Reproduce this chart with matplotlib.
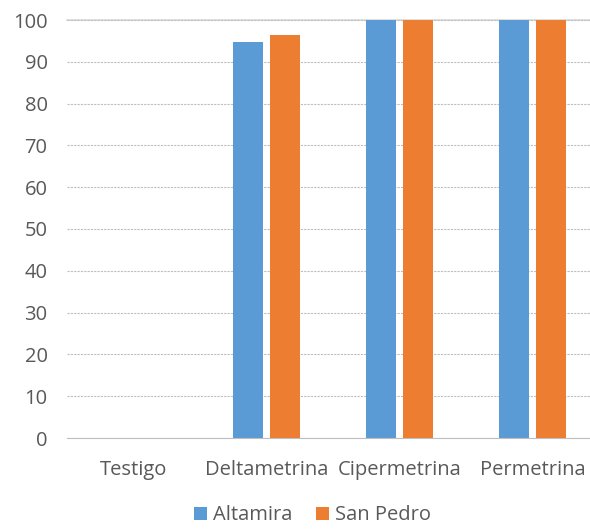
import matplotlib
matplotlib.use("Agg")
import matplotlib.pyplot as plt
import numpy as np

categories = ["Testigo", "Deltametrina", "Cipermetrina", "Permetrina"]
altamira = [0, 94.8, 100, 100]
san_pedro = [0, 96.3, 100, 100]
series_names = ["Altamira", "San Pedro"]
colors = ["#5B9BD5", "#ED7D31"]

plt.rcParams['font.family'] = ['Open Sans', 'DejaVu Sans']
fig = plt.figure(figsize=(5.9, 5.31), dpi=100)
ax = fig.add_axes([67/590, 1 - 438/531, 532/590, 418/531])

x = np.arange(len(categories))
w = 0.222
off = 0.14
ax.bar(x - off, altamira, w, color=colors[0], label=series_names[0], zorder=3)
ax.bar(x + off, san_pedro, w, color=colors[1], label=series_names[1], zorder=3)

ax.set_xlim(-0.5, len(categories) - 0.5)
ax.set_ylim(0, 100)
ax.set_yticks(np.arange(0, 101, 10))
ax.yaxis.grid(True, color="#BFBFBF", linestyle=(0, (2, 1)), linewidth=0.8, zorder=0)
for s in ["right", "left"]:
    ax.spines[s].set_visible(False)
ax.spines["top"].set_color("#D9D9D9")
ax.spines["top"].set_linewidth(1.2)
ax.spines["top"].set_zorder(1)
ax.spines["bottom"].set_color("#BFBFBF")
ax.spines["bottom"].set_linestyle((0, (2, 1)))
ax.spines["bottom"].set_zorder(4)
ax.set_xticks(x)
ax.set_xticklabels(categories)
ax.tick_params(axis="both", length=0, colors="#595959", labelsize=14.5)
ax.tick_params(axis="x", pad=16)
ax.tick_params(axis="y", pad=14)

fig.legend(loc="lower center", bbox_to_anchor=(0.53, -0.012), ncol=2, frameon=False,
           fontsize=14.5, handlelength=0.63, handleheight=0.63, handletextpad=0.3,
           columnspacing=1.2, labelcolor="#595959", borderaxespad=0.2)

fig.savefig("out.png", dpi=100)
